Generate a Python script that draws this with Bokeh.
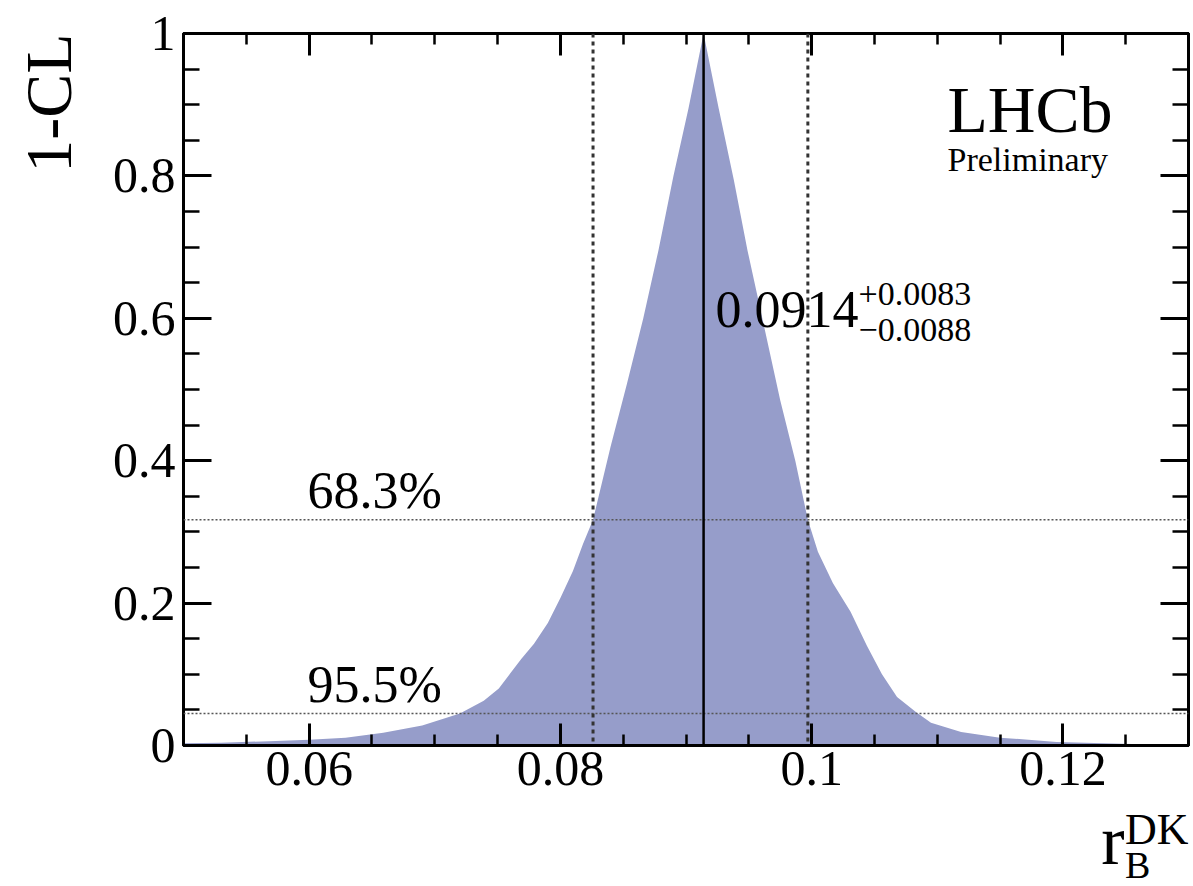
from bokeh.plotting import figure
from bokeh.layouts import row, column
from bokeh.models import (Range1d, FixedTicker, CustomJSTickFormatter, LinearAxis,
                          Span, Label)
from bokeh.embed import file_html
from bokeh.resources import INLINE
import math

# ---------------- data ----------------
r_b = [0.0500, 0.0530, 0.0568, 0.0600, 0.0629, 0.0659, 0.0690, 0.0720, 0.0739,
       0.0751, 0.0760, 0.0769, 0.0779, 0.0790, 0.0800, 0.0810, 0.0818, 0.0826,
       0.0840, 0.0853, 0.0866, 0.0878, 0.0890, 0.0902, 0.0914,
       0.0926, 0.0938, 0.0949, 0.0962, 0.0975, 0.0987, 0.0997, 0.1005, 0.1017,
       0.1031, 0.1044, 0.1056, 0.1068, 0.1083, 0.1095, 0.1119, 0.1150, 0.1195,
       0.1255, 0.1300]
one_minus_cl = [0.003, 0.004, 0.006, 0.008, 0.011, 0.018, 0.028, 0.045, 0.063,
                0.080, 0.101, 0.122, 0.143, 0.172, 0.207, 0.245, 0.283, 0.317,
                0.420, 0.508, 0.600, 0.695, 0.800, 0.895, 1.000,
                0.895, 0.795, 0.695, 0.590, 0.485, 0.400, 0.317, 0.272, 0.228,
                0.188, 0.140, 0.100, 0.068, 0.047, 0.032, 0.019, 0.011, 0.005,
                0.002, 0.001]

best_fit = 0.0914
err_plus = 0.0083
err_minus = 0.0088
cl_levels = [0.317, 0.045]
cl_names = ["68.3%", "95.5%"]

x_major = [0.06, 0.08, 0.1, 0.12]
x_minor = [0.05, 0.055, 0.06, 0.065, 0.07, 0.075, 0.08, 0.085, 0.09, 0.095,
           0.1, 0.105, 0.11, 0.115, 0.12, 0.125, 0.13]
y_major = [0, 0.2, 0.4, 0.6, 0.8, 1]
y_minor = [0, 0.05, 0.1, 0.15, 0.2, 0.25, 0.3, 0.35, 0.4, 0.45, 0.5, 0.55, 0.6,
           0.65, 0.7, 0.75, 0.8, 0.85, 0.9, 0.95, 1]

y_title = "1-CL"
x_title = ("r", "B", "DK")

FONT = "Liberation Serif"
FILL = "#969dca"

W, H = 1193, 886
LEFT_W = 100         # strip holding the y title
BOTTOM_H = 86        # strip holding the x title
# frame geometry on the page (pixels)
FL, FR, FT, FB = 183, 1188, 33, 745
X0, X1, Y0, Y1 = 0.05, 0.13, 0.0, 1.0

MAIN_W = W - LEFT_W
MAIN_H = H - BOTTOM_H
MID = 0.36           # baseline -> middle of text, in em


def fx(px):
    return X0 + (px - FL) * (X1 - X0) / (FR - FL)


def fy(py):
    return Y0 + (FB - py) * (Y1 - Y0) / (FB - FT)


p = figure(width=MAIN_W, height=MAIN_H, x_range=Range1d(X0, X1),
           y_range=Range1d(Y0, Y1),
           output_backend="svg", toolbar_location=None,
           min_border_left=FL - LEFT_W, min_border_right=W - FR,
           min_border_top=FT, min_border_bottom=MAIN_H - FB)
p.grid.visible = False
p.outline_line_color = "black"
p.outline_line_width = 3
p.background_fill_color = "white"
p.border_fill_color = "white"

p.varea(x=r_b, y1=0, y2=one_minus_cl, fill_color=FILL)


def style(ax, ticker, major_len, minor_len, labels=True):
    ax.ticker = ticker
    ax.major_tick_in = major_len
    ax.major_tick_out = 0
    ax.minor_tick_in = minor_len
    ax.minor_tick_out = 0
    ax.major_tick_line_width = 3
    ax.minor_tick_line_width = 2.5
    ax.major_tick_line_color = "black"
    ax.minor_tick_line_color = "black"
    ax.axis_line_width = 3
    ax.axis_line_color = "black"
    if labels:
        ax.major_label_text_font = FONT
        ax.major_label_text_font_size = "50px"
        ax.major_label_text_color = "black"
        ax.formatter = CustomJSTickFormatter(code="return tick.toString();")
    else:
        ax.major_label_text_font_size = "1px"
        ax.major_label_standoff = 0
        ax.formatter = CustomJSTickFormatter(code="return '';")


style(p.xaxis[0], FixedTicker(ticks=x_major, minor_ticks=x_minor), 22, 11)
p.xaxis[0].major_label_standoff = 6
style(p.yaxis[0], FixedTicker(ticks=y_major, minor_ticks=y_minor), 28, 16)
p.yaxis[0].major_label_standoff = 8

top_ax = LinearAxis()
style(top_ax, FixedTicker(ticks=x_major, minor_ticks=x_minor), 22, 11, labels=False)
p.add_layout(top_ax, "above")
right_ax = LinearAxis()
style(right_ax, FixedTicker(ticks=y_major, minor_ticks=y_minor), 28, 16, labels=False)
p.add_layout(right_ax, "right")

# CL lines
for lvl in cl_levels:
    p.add_layout(Span(location=lvl, dimension="width", line_color="#555555",
                      line_width=1.5, line_dash="2 2"))
for v in [best_fit - err_minus, best_fit + err_plus]:
    p.add_layout(Span(location=v, dimension="height", line_color="#333333",
                      line_width=3, line_dash="4 4"))
p.add_layout(Span(location=best_fit, dimension="height", line_color="black",
                  line_width=2.5))


def text(fig, t, x, y, size, **kw):
    # x, y: anchor in fig's data units, y is the middle of the text line
    fig.add_layout(Label(x=x, y=y, text=t, text_font=FONT,
                         text_font_size=f"{size}px", text_color="black",
                         text_baseline="middle", **kw))


def ptext(t, px, py_base, size):
    """text in the main frame, left edge px and baseline py_base in page pixels"""
    text(p, t, fx(px), fy(py_base - MID * size), size)


# CL level names
ptext(cl_names[0], 307, 509, 52)
ptext(cl_names[1], 307, 703, 52)

# best-fit value with errors
ptext(f"{best_fit:.4f}", 715, 328, 52)
ptext(f"+{err_plus:.4f}", 858, 306, 34)
ptext(f"\u2212{err_minus:.4f}", 858, 342, 34)

# LHCb
ptext("LHCb", 947, 133, 66)
ptext("Preliminary", 947, 171, 34)


def text_fig(w, h):
    f = figure(width=w, height=h, x_range=Range1d(0, w), y_range=Range1d(0, h),
               x_axis_type=None, y_axis_type=None, output_backend="svg",
               toolbar_location=None, min_border=0)
    f.outline_line_color = None
    f.grid.visible = False
    f.background_fill_color = "white"
    f.border_fill_color = "white"
    return f


# y-axis title strip (page x 0..LEFT_W); y measured upward from strip bottom
pl = text_fig(LEFT_W, H)
text(pl, y_title, 72 - MID * 66, H - FT, 66, angle=math.pi / 2, text_align="right")

# x-axis title strip (page y MAIN_H..H, x LEFT_W..W); y upward from strip bottom
pb = text_fig(MAIN_W, BOTTOM_H)
text(pb, x_title[0], 1098 - LEFT_W, H - (865 - MID * 70), 70)
text(pb, x_title[2], 1124 - LEFT_W, H - (845 - MID * 44), 44)
text(pb, x_title[1], 1124 - LEFT_W, H - (878 - MID * 38), 38)

layout = row(pl, column(p, pb, spacing=0), spacing=0)

open("out.html", "w").write(file_html(layout, INLINE))
